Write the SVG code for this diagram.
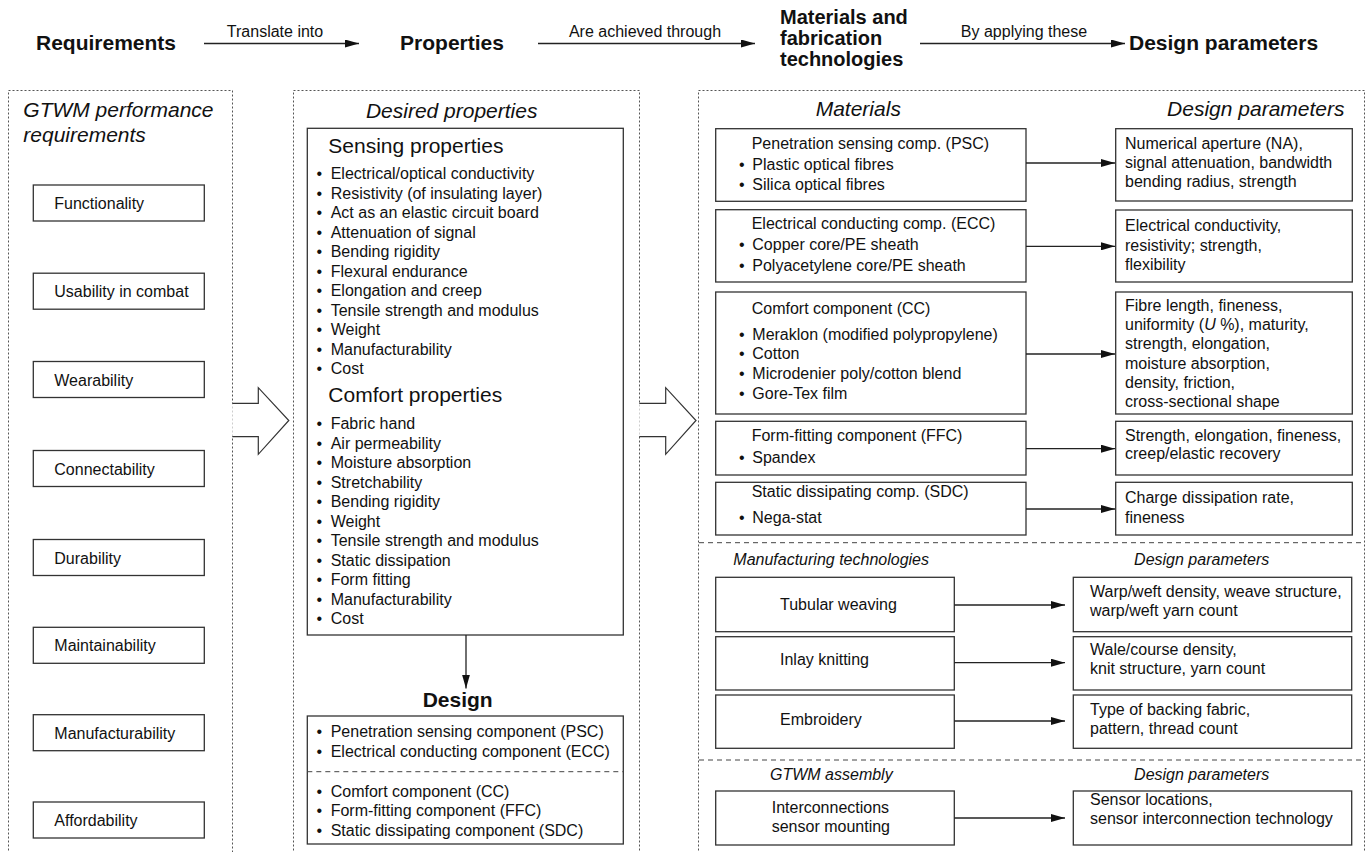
<svg xmlns="http://www.w3.org/2000/svg" width="1367" height="852" viewBox="0 0 1367 852">
<defs>
<marker id="ah" markerUnits="userSpaceOnUse" markerWidth="14" markerHeight="8" refX="14" refY="4" orient="auto">
<path d="M0,0 L14,4 L0,8 z" fill="#111"/>
</marker>
<style>
.t{font-family:"Liberation Sans",Arial,Helvetica,sans-serif;font-size:16px;fill:#111}
.h{font-size:21px;font-weight:bold}
.h2{font-size:20px;font-weight:bold}
.hi{font-size:21px;font-style:italic}
.hr{font-size:21px}
.si{font-style:italic}
.m{text-anchor:middle}
.panel{fill:none;stroke:#555;stroke-width:1;stroke-dasharray:2 2}
.box{fill:#fff;stroke:#333;stroke-width:1.3}
.sep{stroke:#444;stroke-width:1;stroke-dasharray:5 4;fill:none}
.conn{stroke:#222;stroke-width:1.3;fill:none;marker-end:url(#ah)}
.barrow{fill:#fff;stroke:#333;stroke-width:1.2}
</style>
</defs>
<rect width="1367" height="852" fill="#fff"/>

<g id="header">
<text class="t h" x="36" y="49.5">Requirements</text>
<text class="t h m" x="452" y="49.5">Properties</text>
<text class="t h2" x="780" y="23.5">Materials and</text>
<text class="t h2" x="780" y="44.5">fabrication</text>
<text class="t h2" x="780" y="65.5">technologies</text>
<text class="t h" x="1129" y="49.5">Design parameters</text>
<text class="t m" x="275" y="36.7">Translate into</text>
<text class="t m" x="645" y="36.7">Are achieved through</text>
<text class="t m" x="1024" y="36.7">By applying these</text>
</g>

<g id="panels">
<rect class="panel" x="8.5" y="90.5" width="224" height="780"/>
<rect class="panel" x="293.5" y="90.5" width="346" height="780"/>
<rect class="panel" x="698.5" y="90.5" width="666" height="780"/>
<line class="sep" x1="699" y1="542.7" x2="1365" y2="542.7"/>
<line class="sep" x1="699" y1="760" x2="1365" y2="760"/>
</g>

<g id="requirements">
<text class="t hi" x="23.3" y="116.7">GTWM performance</text>
<text class="t hi" x="23.3" y="141.7">requirements</text>
<g id="req-functionality"><rect class="box" x="33.3" y="185" width="171" height="36"/><text class="t" x="54.3" y="209">Functionality</text></g>
<g id="req-usability"><rect class="box" x="33.3" y="273.2" width="171" height="36"/><text class="t" x="54.3" y="297.2">Usability in combat</text></g>
<g id="req-wearability"><rect class="box" x="33.3" y="361.5" width="171" height="36"/><text class="t" x="54.3" y="385.5">Wearability</text></g>
<g id="req-connectability"><rect class="box" x="33.3" y="450.5" width="171" height="36"/><text class="t" x="54.3" y="474.5">Connectability</text></g>
<g id="req-durability"><rect class="box" x="33.3" y="539.5" width="171" height="36"/><text class="t" x="54.3" y="563.5">Durability</text></g>
<g id="req-maintainability"><rect class="box" x="33.3" y="627.3" width="171" height="36"/><text class="t" x="54.3" y="651.3">Maintainability</text></g>
<g id="req-manufacturability"><rect class="box" x="33.3" y="714.7" width="171" height="36"/><text class="t" x="54.3" y="738.7">Manufacturability</text></g>
<g id="req-affordability"><rect class="box" x="33.3" y="802" width="171" height="36"/><text class="t" x="54.3" y="826">Affordability</text></g>
</g>

<g id="big-arrows">
<path class="barrow" d="M232.3,403.3 H258.3 V387.7 L288.8,420.5 L258.3,454.3 V436.7 H232.3"/>
<path class="barrow" d="M639.3,403.3 H665.7 V387.7 L696,420.5 L665.7,454.3 V436.7 H639.3"/>
</g>

<g id="properties">
<text class="t hi m" x="451.7" y="117.5">Desired properties</text>
<rect class="box" x="307.3" y="128.3" width="316" height="506.7"/>
<text class="t hr" x="328.3" y="153.3">Sensing properties</text>
<text class="t" y="179.3"><tspan x="316.5">•</tspan><tspan x="330.7">Electrical/optical conductivity</tspan></text>
<text class="t" y="198.8"><tspan x="316.5">•</tspan><tspan x="330.7">Resistivity (of insulating layer)</tspan></text>
<text class="t" y="218.3"><tspan x="316.5">•</tspan><tspan x="330.7">Act as an elastic circuit board</tspan></text>
<text class="t" y="237.8"><tspan x="316.5">•</tspan><tspan x="330.7">Attenuation of signal</tspan></text>
<text class="t" y="257.3"><tspan x="316.5">•</tspan><tspan x="330.7">Bending rigidity</tspan></text>
<text class="t" y="276.8"><tspan x="316.5">•</tspan><tspan x="330.7">Flexural endurance</tspan></text>
<text class="t" y="296.3"><tspan x="316.5">•</tspan><tspan x="330.7">Elongation and creep</tspan></text>
<text class="t" y="315.8"><tspan x="316.5">•</tspan><tspan x="330.7">Tensile strength and modulus</tspan></text>
<text class="t" y="335.3"><tspan x="316.5">•</tspan><tspan x="330.7">Weight</tspan></text>
<text class="t" y="354.8"><tspan x="316.5">•</tspan><tspan x="330.7">Manufacturability</tspan></text>
<text class="t" y="374.3"><tspan x="316.5">•</tspan><tspan x="330.7">Cost</tspan></text>
<text class="t hr" x="328.3" y="402.3">Comfort properties</text>
<text class="t" y="429"><tspan x="316.5">•</tspan><tspan x="330.7">Fabric hand</tspan></text>
<text class="t" y="448.5"><tspan x="316.5">•</tspan><tspan x="330.7">Air permeability</tspan></text>
<text class="t" y="468"><tspan x="316.5">•</tspan><tspan x="330.7">Moisture absorption</tspan></text>
<text class="t" y="487.5"><tspan x="316.5">•</tspan><tspan x="330.7">Stretchability</tspan></text>
<text class="t" y="507"><tspan x="316.5">•</tspan><tspan x="330.7">Bending rigidity</tspan></text>
<text class="t" y="526.5"><tspan x="316.5">•</tspan><tspan x="330.7">Weight</tspan></text>
<text class="t" y="546"><tspan x="316.5">•</tspan><tspan x="330.7">Tensile strength and modulus</tspan></text>
<text class="t" y="565.5"><tspan x="316.5">•</tspan><tspan x="330.7">Static dissipation</tspan></text>
<text class="t" y="585"><tspan x="316.5">•</tspan><tspan x="330.7">Form fitting</tspan></text>
<text class="t" y="604.5"><tspan x="316.5">•</tspan><tspan x="330.7">Manufacturability</tspan></text>
<text class="t" y="624"><tspan x="316.5">•</tspan><tspan x="330.7">Cost</tspan></text>
</g>

<g id="design">
<text class="t h m" x="457.7" y="707.3">Design</text>
<rect class="box" x="307.3" y="716" width="316" height="128"/>
<line class="sep" x1="307.3" y1="771.7" x2="623.3" y2="771.7"/>
<text class="t" y="737.3"><tspan x="316.5">•</tspan><tspan x="330.7">Penetration sensing component (PSC)</tspan></text>
<text class="t" y="756.7"><tspan x="316.5">•</tspan><tspan x="330.7">Electrical conducting component (ECC)</tspan></text>
<text class="t" y="796.7"><tspan x="316.5">•</tspan><tspan x="330.7">Comfort component (CC)</tspan></text>
<text class="t" y="816.2"><tspan x="316.5">•</tspan><tspan x="330.7">Form-fitting component (FFC)</tspan></text>
<text class="t" y="835.7"><tspan x="316.5">•</tspan><tspan x="330.7">Static dissipating component (SDC)</tspan></text>
</g>

<g id="materials">
<text class="t hi m" x="858.3" y="116.3">Materials</text>
<text class="t hi m" x="1255.8" y="116.3">Design parameters</text>
<g id="mat-psc"><rect class="box" x="715.7" y="128.7" width="310.3" height="72.6"/>
<text class="t" x="751.7" y="148.7">Penetration sensing comp. (PSC)</text>
<text class="t" y="169.7"><tspan x="739">•</tspan><tspan x="752.3">Plastic optical fibres</tspan></text>
<text class="t" y="189.7"><tspan x="739">•</tspan><tspan x="752.3">Silica optical fibres</tspan></text></g>
<g id="mat-ecc"><rect class="box" x="715.7" y="209.7" width="310.3" height="72.3"/>
<text class="t" x="751.7" y="228.7">Electrical conducting comp. (ECC)</text>
<text class="t" y="250.3"><tspan x="739">•</tspan><tspan x="752.3">Copper core/PE sheath</tspan></text>
<text class="t" y="270.5"><tspan x="739">•</tspan><tspan x="752.3">Polyacetylene core/PE sheath</tspan></text></g>
<g id="mat-cc"><rect class="box" x="715.7" y="292" width="310.3" height="122"/>
<text class="t" x="751.7" y="314">Comfort component (CC)</text>
<text class="t" y="339.7"><tspan x="739">•</tspan><tspan x="752.3">Meraklon (modified polypropylene)</tspan></text>
<text class="t" y="359.4"><tspan x="739">•</tspan><tspan x="752.3">Cotton</tspan></text>
<text class="t" y="379.1"><tspan x="739">•</tspan><tspan x="752.3">Microdenier poly/cotton blend</tspan></text>
<text class="t" y="398.8"><tspan x="739">•</tspan><tspan x="752.3">Gore-Tex film</tspan></text></g>
<g id="mat-ffc"><rect class="box" x="715.7" y="421.3" width="310.3" height="53.7"/>
<text class="t" x="751.7" y="440.7">Form-fitting component (FFC)</text>
<text class="t" y="463"><tspan x="739">•</tspan><tspan x="752.3">Spandex</tspan></text></g>
<g id="mat-sdc"><rect class="box" x="715.7" y="482.3" width="310.3" height="52.7"/>
<text class="t" x="751.7" y="497.3">Static dissipating comp. (SDC)</text>
<text class="t" y="523.3"><tspan x="739">•</tspan><tspan x="752.3">Nega-stat</tspan></text></g>
</g>

<g id="material-params">
<g id="dp-psc"><rect class="box" x="1115.7" y="128.7" width="236.6" height="72.3"/>
<text class="t" x="1125" y="148.7">Numerical aperture (NA),</text>
<text class="t" x="1125" y="168">signal attenuation, bandwidth</text>
<text class="t" x="1125" y="187.3">bending radius, strength</text></g>
<g id="dp-ecc"><rect class="box" x="1115.7" y="210" width="236.6" height="72"/>
<text class="t" x="1125" y="231.3">Electrical conductivity,</text>
<text class="t" x="1125" y="250.5">resistivity; strength,</text>
<text class="t" x="1125" y="269.7">flexibility</text></g>
<g id="dp-cc"><rect class="box" x="1115.7" y="292" width="236.6" height="122"/>
<text class="t" x="1125" y="310.7">Fibre length, fineness,</text>
<text class="t" x="1125" y="330">uniformity (<tspan class="si">U</tspan> %), maturity,</text>
<text class="t" x="1125" y="349.3">strength, elongation,</text>
<text class="t" x="1125" y="368.6">moisture absorption,</text>
<text class="t" x="1125" y="387.9">density, friction,</text>
<text class="t" x="1125" y="407.2">cross-sectional shape</text></g>
<g id="dp-ffc"><rect class="box" x="1115.7" y="421.3" width="236.6" height="53.7"/>
<text class="t" x="1125" y="440.7">Strength, elongation, fineness,</text>
<text class="t" x="1125" y="459">creep/elastic recovery</text></g>
<g id="dp-sdc"><rect class="box" x="1115.7" y="482.3" width="236.6" height="52.7"/>
<text class="t" x="1125" y="503.3">Charge dissipation rate,</text>
<text class="t" x="1125" y="522.7">fineness</text></g>
</g>

<g id="manufacturing">
<text class="t si" x="733.3" y="565">Manufacturing technologies</text>
<text class="t si m" x="1201.7" y="565">Design parameters</text>
<g id="mt-weaving"><rect class="box" x="715.7" y="577.3" width="238.6" height="54.4"/><text class="t" x="780" y="610">Tubular weaving</text></g>
<g id="mt-knitting"><rect class="box" x="715.7" y="636.7" width="238.6" height="53.3"/><text class="t" x="780" y="665">Inlay knitting</text></g>
<g id="mt-embroidery"><rect class="box" x="715.7" y="695" width="238.6" height="53.3"/><text class="t" x="780" y="725">Embroidery</text></g>
<g id="dp-weaving"><rect class="box" x="1073.3" y="577.3" width="278.4" height="54.4"/>
<text class="t" x="1090" y="596.7">Warp/weft density, weave structure,</text>
<text class="t" x="1090" y="616.3">warp/weft yarn count</text></g>
<g id="dp-knitting"><rect class="box" x="1073.3" y="636.7" width="278.4" height="53.3"/>
<text class="t" x="1090" y="655">Wale/course density,</text>
<text class="t" x="1090" y="674">knit structure, yarn count</text></g>
<g id="dp-embroidery"><rect class="box" x="1073.3" y="695" width="278.4" height="53.3"/>
<text class="t" x="1090" y="715">Type of backing fabric,</text>
<text class="t" x="1090" y="734">pattern, thread count</text></g>
</g>

<g id="assembly">
<text class="t si" x="770" y="780">GTWM assembly</text>
<text class="t si m" x="1201.7" y="780">Design parameters</text>
<g id="as-interconnections"><rect class="box" x="715.7" y="791" width="238.6" height="54"/>
<text class="t" x="771.7" y="813.3">Interconnections</text>
<text class="t" x="771.7" y="832">sensor mounting</text></g>
<g id="dp-assembly"><rect class="box" x="1073.3" y="791" width="278.4" height="54"/>
<text class="t" x="1090" y="805">Sensor locations,</text>
<text class="t" x="1090" y="824.3">sensor interconnection technology</text></g>
</g>

<g id="connectors">
<line class="conn" x1="204" y1="43.5" x2="359" y2="43.5"/>
<line class="conn" x1="538" y1="43.5" x2="755" y2="43.5"/>
<line class="conn" x1="920" y1="43.5" x2="1125" y2="43.5"/>
<line class="conn" x1="466" y1="635" x2="466" y2="688.5"/>
<line class="conn" x1="1026" y1="163" x2="1115" y2="163"/>
<line class="conn" x1="1026" y1="246.3" x2="1115" y2="246.3"/>
<line class="conn" x1="1026" y1="354" x2="1115" y2="354"/>
<line class="conn" x1="1026" y1="448.7" x2="1115" y2="448.7"/>
<line class="conn" x1="1026" y1="509" x2="1115" y2="509"/>
<line class="conn" x1="954.3" y1="605" x2="1065" y2="605"/>
<line class="conn" x1="954.3" y1="662.7" x2="1065" y2="662.7"/>
<line class="conn" x1="954.3" y1="721" x2="1065" y2="721"/>
<line class="conn" x1="954.3" y1="818" x2="1065" y2="818"/>
</g>
</svg>
